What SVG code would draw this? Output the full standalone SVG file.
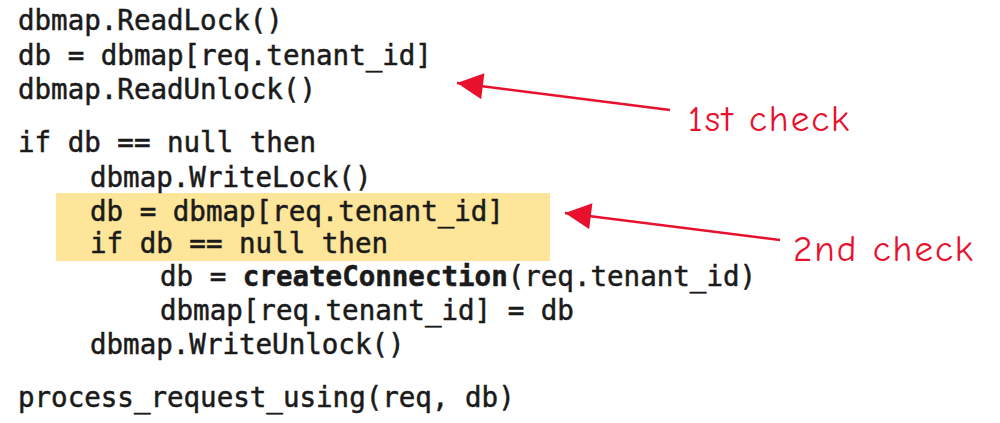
<svg xmlns="http://www.w3.org/2000/svg" width="1000" height="423" viewBox="0 0 1000 423">
<style>
.c{font-family:"DejaVu Sans Mono","Liberation Mono",monospace;font-size:27.5px;fill:#1a1a1a;stroke:#1a1a1a;stroke-width:0.5}
.h{font-family:"Comic Neue","DejaVu Sans",sans-serif;font-size:37px;letter-spacing:2px;fill:#e8112d}
.a{stroke:#e8112d;stroke-width:2.5;fill:none}
</style>
<defs>
<marker id="ah2" viewBox="0 0 10 10" refX="10" refY="5" markerWidth="32" markerHeight="26" markerUnits="userSpaceOnUse" orient="auto"><path d="M0,0 L10,5 L0,10 Z" fill="#e8112d"/></marker></defs>
<rect width="1000" height="423" fill="#fff"/>
<g id="highlight"><rect x="56" y="193" width="494" height="68" fill="#fde59a"/></g>
<g id="code">
<text class="c" x="18" y="30">dbmap.ReadLock()</text>
<text class="c" x="18" y="65">db = dbmap[req.tenant_id]</text>
<text class="c" x="18" y="99">dbmap.ReadUnlock()</text>
<text class="c" x="18" y="152">if db == null then</text>
<text class="c" x="90" y="187">dbmap.WriteLock()</text>
<text class="c" x="90" y="221">db = dbmap[req.tenant_id]</text>
<text class="c" x="90" y="253">if db == null then</text>
<text class="c" x="160" y="286">db = <tspan font-weight="bold">createConnection</tspan>(req.tenant_id)</text>
<text class="c" x="160" y="320">dbmap[req.tenant_id] = db</text>
<text class="c" x="90" y="354">dbmap.WriteUnlock()</text>
<text class="c" x="18" y="407">process_request_using(req, db)</text>
</g>
<g id="connectors">
<path class="a" d="M670,110 L457,83" marker-end="url(#ah2)"/>
<path class="a" d="M780,240 L565,213" marker-end="url(#ah2)"/>
</g>
<g id="label1"><text class="h" x="688" y="131">1st check</text></g>
<g id="label2"><text class="h" x="793" y="261">2nd check</text></g>
</svg>
